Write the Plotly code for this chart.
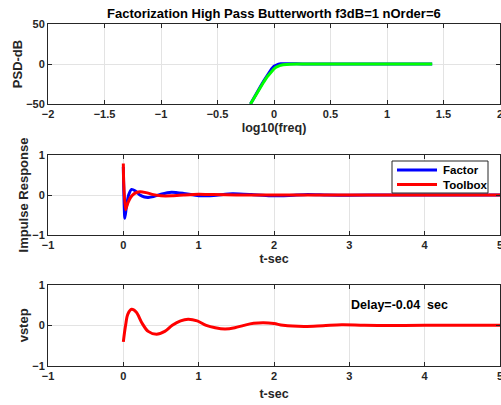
import plotly.graph_objects as go

# ---------- data ----------
psd_logf_toolbox = [-0.208, -0.18, -0.15, -0.12, -0.09, -0.06, -0.04, -0.02, 0.0, 0.02, 0.04, 0.06,
                    0.08, 0.10, 0.14, 0.2, 0.3, 0.5, 0.8, 1.1, 1.4]
psd_db_toolbox = [-50, -43.2, -36.1, -29.1, -22.3, -15.9, -12.1, -8.7, -6.0, -3.95, -2.5, -1.5,
                  -0.9, -0.5, -0.18, -0.03, 0, 0, 0, 0, 0]

psd_logf_factor = [-0.208, -0.18, -0.15, -0.12, -0.09, -0.06, -0.04, -0.02, 0.0, 0.02, 0.04, 0.06,
                   0.08, 0.10, 0.14, 0.2, 0.25, 0.3, 0.4, 0.8, 1.1, 1.4]
psd_db_factor = [-50, -42.5, -35.3, -28.0, -21.0, -14.0, -9.8, -5.8, -2.8, -1.0, -0.1, 0.3,
                 0.4, 0.3, 0.1, 0.2, -0.1, 0.1, 0, 0, 0, 0]

imp_t_factor = [0, 0.005, 0.02, 0.04, 0.07, 0.11, 0.16, 0.22, 0.28, 0.33, 0.4, 0.5, 0.64, 0.8,
                1.0, 1.2, 1.45, 1.7, 1.95, 2.2, 2.45, 2.7, 3.0, 3.5, 4.0, 4.5, 5.0]
imp_y_factor = [0.7, 0.2, -0.58, -0.3, 0.0, 0.14, 0.1, 0.0, -0.05, -0.06, -0.04, 0.02, 0.07, 0.04,
                -0.02, -0.01, 0.03, 0.01, -0.02, -0.01, 0.015, 0.0, -0.005, 0, 0, 0, 0]

imp_t_toolbox = [0, 0.005, 0.03, 0.06, 0.1, 0.15, 0.22, 0.3, 0.4, 0.5, 0.65, 0.8, 1.0, 1.2, 1.5,
                 2.0, 3.0, 4.0, 5.0]
imp_y_toolbox = [0.79, 0.3, -0.37, -0.2, -0.05, 0.04, 0.08, 0.06, 0.01, -0.02, -0.02, 0.0, 0.02,
                 0.01, 0, 0, 0, 0, 0]

step_t = [0, 0.03, 0.06, 0.11, 0.17, 0.25, 0.33, 0.44, 0.55, 0.65, 0.76, 0.86, 0.98, 1.1, 1.22,
          1.35, 1.48, 1.6, 1.73, 1.86, 2.0, 2.12, 2.4, 2.65, 2.9, 3.2, 3.6, 4.0, 4.5, 5.0]
step_y = [-0.41, 0.0, 0.28, 0.40, 0.33, 0.05, -0.15, -0.22, -0.15, 0.0, 0.11, 0.15, 0.11, 0.0,
          -0.06, -0.09, -0.06, 0.0, 0.05, 0.065, 0.045, 0.0, -0.03, -0.01, 0.015, 0.0, -0.005,
          0, 0, 0]

legend_names = ["Factor", "Toolbox"]
legend_colors = ["#0000ff", "#ff0000"]
title_text = "Factorization High Pass Butterworth f3dB=1 nOrder=6"
delay_text = "Delay=-0.04  sec"

# ---------- figure ----------
FONT = "Liberation Sans, Arial, sans-serif"
AX = "#262626"
GRID = "#e3e3e3"
W, H = 501, 405

fig = go.Figure()
fig.add_trace(go.Scatter(x=psd_logf_factor, y=psd_db_factor, mode="lines",
                         line=dict(color="#0000ff", width=3), showlegend=False,
                         xaxis="x", yaxis="y"))
fig.add_trace(go.Scatter(x=psd_logf_toolbox, y=psd_db_toolbox, mode="lines",
                         line=dict(color="#00ff00", width=3), showlegend=False,
                         xaxis="x", yaxis="y"))
fig.add_trace(go.Scatter(x=imp_t_factor, y=imp_y_factor, mode="lines", name=legend_names[0],
                         line=dict(color=legend_colors[0], width=3, shape="spline", smoothing=0.6),
                         showlegend=False, xaxis="x2", yaxis="y2"))
fig.add_trace(go.Scatter(x=imp_t_toolbox, y=imp_y_toolbox, mode="lines", name=legend_names[1],
                         line=dict(color=legend_colors[1], width=3, shape="spline", smoothing=0.6),
                         showlegend=False, xaxis="x2", yaxis="y2"))
fig.add_trace(go.Scatter(x=step_t, y=step_y, mode="lines", showlegend=False,
                         line=dict(color="#ff0000", width=3, shape="spline", smoothing=1.0),
                         xaxis="x3", yaxis="y3"))


def dom(top_px, bot_px):
    return [1 - bot_px / H, 1 - top_px / H]


common = dict(showgrid=True, gridcolor=GRID, gridwidth=1, zeroline=False,
              showline=True, linecolor=AX, linewidth=1, mirror="allticks",
              ticks="inside", ticklen=4, tickcolor=AX, ticklabeloverflow="allow",
              tickfont=dict(family=FONT, size=11, color=AX, weight="bold"),
              automargin=False)

def xt(txt, so=4):
    return dict(text=txt, font=dict(family=FONT, size=12.5, color=AX, weight="bold"), standoff=so)

def yt(txt, so=0):
    return dict(text=txt, font=dict(family=FONT, size=13, color=AX, weight="bold"), standoff=so)

# legend drawn as box + sample lines in the impulse-response panel (axes-domain coords)
def px_to_dom_x(px):
    return (px - 48) / 452.0

def px_to_dom_y(py):
    return (235 - py) / 80.0

shapes = [dict(type="rect", xref="x2 domain", yref="y2 domain",
               x0=px_to_dom_x(392), x1=px_to_dom_x(488), y0=px_to_dom_y(193), y1=px_to_dom_y(161),
               line=dict(color=AX, width=1), fillcolor="white", layer="above")]
annotations = []
for i, (nm, col) in enumerate(zip(legend_names, legend_colors)):
    ypx = 170 + 14.5 * i
    shapes.append(dict(type="line", xref="x2 domain", yref="y2 domain",
                       x0=px_to_dom_x(397), x1=px_to_dom_x(437),
                       y0=px_to_dom_y(ypx), y1=px_to_dom_y(ypx),
                       line=dict(color=col, width=3), layer="above"))
    annotations.append(dict(text=nm, xref="x2 domain", yref="y2 domain",
                            x=px_to_dom_x(441), y=px_to_dom_y(ypx),
                            xanchor="left", yanchor="middle", showarrow=False,
                            font=dict(family=FONT, size=11.5, color="black", weight="bold")))

annotations += [
    dict(text=title_text, x=0.5, y=1 - 13 / H, xref="paper", yref="paper",
         xanchor="center", yanchor="middle", showarrow=False,
         font=dict(family=FONT, size=13, color="black", weight="bold")),
    dict(text=delay_text, x=3.0, y=0.5, xref="x3", yref="y3", xanchor="left", yanchor="middle",
         showarrow=False, font=dict(family=FONT, size=12.5, color="black", weight="bold")),
]

fig.update_layout(
    width=W, height=H,
    margin=dict(l=48, r=1, t=0, b=0),
    paper_bgcolor="white", plot_bgcolor="white",
    font=dict(family=FONT, color=AX),
    showlegend=False,
    xaxis=dict(domain=[0, 1], range=[-2, 2], dtick=0.5, anchor="y", title=xt("log10(freq)"), **common),
    yaxis=dict(domain=dom(24, 104), range=[-50, 50], dtick=50, anchor="x", title=yt("PSD-dB"), **common),
    xaxis2=dict(domain=[0, 1], range=[-1, 5], dtick=1, anchor="y2", title=xt("t-sec"), **common),
    yaxis2=dict(domain=dom(155, 235), range=[-1, 1], dtick=1, anchor="x2", title=yt("Impulse Response"), **common),
    xaxis3=dict(domain=[0, 1], range=[-1, 5], dtick=1, anchor="y3", title=xt("t-sec", 8), **common),
    yaxis3=dict(domain=dom(285, 365.7), range=[-1, 1], dtick=1, anchor="x3", title=yt("vstep"), **common),
    shapes=shapes,
    annotations=annotations,
)

fig.write_html("out.html", config={"displayModeBar": False},
               post_script="document.body.style.margin='0';document.body.style.overflow='hidden';")
